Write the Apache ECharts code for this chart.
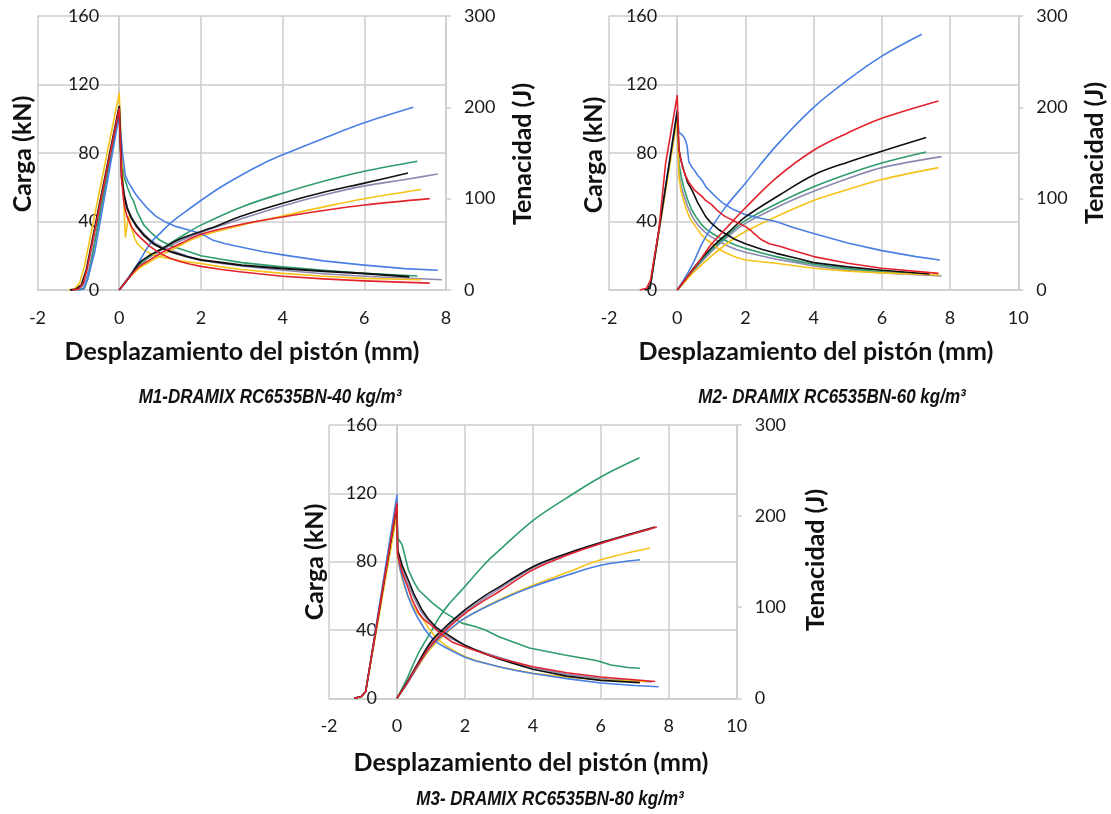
<!DOCTYPE html>
<html>
<head>
<meta charset="utf-8">
<script src="https://cdn.jsdelivr.net/npm/echarts@6/dist/echarts.min.js"></script>
<style>
html,body{margin:0;padding:0;background:#fff;}
#c{width:1111px;height:814px;}
</style>
</head>
<body>
<div id="c"></div>
<script>
// ---------- Labels ----------
const yLeftTitle = 'Carga (kN)';
const yRightTitle = 'Tenacidad (J)';
const xTitle = 'Desplazamiento del pistón (mm)';
const panelTitles = ['M1-DRAMIX RC6535BN-40 kg/m³', 'M2- DRAMIX RC6535BN-60 kg/m³', 'M3- DRAMIX RC6535BN-80 kg/m³'];
const xMins = [-2, -2, -2];
const xMaxes = [8, 10, 10];
const seriesNames = ['Morado', 'Verde', 'Amarillo', 'Azul', 'Negro', 'Rojo'];

// ---------- M1 : carga (kN) ----------
const m1CargaMorado = [[-1.1,0],[-0.95,0.5],[-0.83,5],[-0.72,14],[0,104],[0.07,64],[0.13,55],[0.2,48],[0.3,42],[0.45,37],[0.6,33],[0.75,29.5],[0.9,27],[1.1,24.5],[1.4,22],[1.7,19.5],[2.0,17.5],[2.5,15.5],[3.0,14],[4.0,11.5],[5.0,9.5],[6.0,8],[7.0,7],[7.9,6]];
const m1CargaVerde = [[-1.0,0],[-0.85,1],[-0.75,8],[0,104],[0.06,75],[0.12,66],[0.2,60],[0.28,55],[0.35,52],[0.45,45],[0.6,38],[0.8,33],[1.0,29],[1.25,26],[1.5,24],[1.75,22],[2.0,20],[2.5,18],[3.0,16],[4.0,13.5],[5.0,11.5],[6.0,9.7],[7.3,8.2]];
const m1CargaAmarillo = [[-1.25,0],[-1.1,0.5],[-0.97,4],[-0.85,14],[0,115],[0.08,70],[0.15,31],[0.23,43],[0.3,36],[0.38,30],[0.45,27],[0.55,24.5],[0.7,22],[0.85,20.5],[1.0,19.5],[1.5,17],[2.0,15.5],[2.5,13.5],[3.0,12],[4.0,9.7],[5.0,8],[6.0,6.8],[7.4,6]];
const m1CargaAzul = [[-1.0,0],[-0.88,0.5],[-0.78,6],[-0.6,22],[0,102],[0.08,80],[0.15,67],[0.22,63],[0.3,60],[0.4,56],[0.5,53],[0.7,47.5],[0.9,43],[1.15,39.5],[1.4,37],[1.7,35],[2.0,33],[2.15,31],[2.3,29],[2.6,27],[3.0,25],[3.5,22.5],[4.0,20.5],[5.0,17],[6.0,14.5],[7.0,12.5],[7.8,11.5]];
const m1CargaNegro = [[-1.2,0],[-1.05,0.5],[-0.92,3],[-0.8,12],[0,107],[0.06,66],[0.12,55],[0.19,48],[0.3,42],[0.43,37],[0.6,32],[0.84,27],[1.05,24.3],[1.3,22],[1.65,19.5],[2.0,17.5],[2.5,16],[3.0,14.5],[4.0,12.6],[5.0,11],[6.0,9.7],[7.1,7.8]];
const m1CargaRojo = [[-1.15,0],[-1.0,0.5],[-0.88,4],[-0.78,13],[0,106],[0.06,64],[0.12,50],[0.19,43],[0.3,37],[0.4,33.5],[0.5,31],[0.75,25.5],[1.0,21.4],[1.25,18.5],[1.5,16.5],[1.75,15],[2.0,13.8],[2.5,12],[3.0,10.5],[4.0,8],[5.0,6.5],[6.0,5.3],[7.6,4]];
// ---------- M1 : tenacidad (J) ----------
const m1TenMorado = [[0,0],[0.25,15],[0.5,28],[0.75,36],[1.0,43],[1.5,54],[2.0,63],[3.0,78],[4.0,92],[5.0,104],[6.0,114],[7.0,121],[7.8,127]];
const m1TenVerde = [[0,0],[0.25,14],[0.5,28],[0.75,37],[1.0,44],[1.5,58],[2.0,71],[3.0,91],[4.0,106],[5.0,119],[6.0,130],[7.3,141]];
const m1TenAmarillo = [[0.15,10],[0.25,14],[0.5,24],[0.75,31],[1.0,37],[1.5,49],[2.0,59],[3.0,71],[4.0,81],[5.0,91],[6.0,100],[7.4,110]];
const m1TenAzul = [[0,0],[0.25,15],[0.5,32],[0.76,51],[1.0,62],[1.25,73],[1.6,85],[2.0,98],[2.5,113],[3.0,126],[3.5,138],[4.0,148],[5.0,166],[6.0,183],[7.2,200]];
const m1TenNegro = [[0,0],[0.25,14],[0.5,30],[0.75,38],[1.0,44],[1.5,56],[2.23,67.5],[3.0,81],[4.0,95],[5.0,107],[6.0,117],[7.07,128]];
const m1TenRojo = [[0,0],[0.25,14],[0.5,26],[0.75,33],[1.0,40],[1.5,51],[2.0,61],[3.0,72],[4.0,80],[5.0,87],[6.0,93],[7.6,100]];

// ---------- M2 : carga (kN) ----------
const m2CargaMorado = [[-0.95,0],[-0.8,1],[0,102],[0.05,68],[0.12,60],[0.2,55],[0.3,49],[0.44,43],[0.6,38],[0.8,34],[1.0,31],[1.25,28],[1.5,25.5],[1.75,23.5],[2.0,22],[2.45,20],[2.9,18],[3.5,16],[4.0,14],[5.0,11.5],[6.0,10],[7.75,8.2]];
const m2CargaVerde = [[-0.95,0],[-0.8,1],[0,103],[0.05,74],[0.12,66],[0.19,60],[0.3,53],[0.42,47],[0.54,43],[0.7,38.5],[0.85,35.5],[1.03,33],[1.25,30.5],[1.5,28],[1.75,26],[2.0,24.3],[2.45,21.8],[2.9,19.5],[3.5,17],[4.0,15],[5.0,12.5],[6.0,10.7],[7.3,9.3]];
const m2CargaAmarillo = [[-0.95,0],[-0.8,1],[0,100],[0.05,66],[0.12,57],[0.24,48.6],[0.35,43],[0.45,39.5],[0.54,37],[0.7,32.5],[0.85,29.5],[1.03,27],[1.25,23.5],[1.5,21],[1.75,19],[2.0,17.5],[2.45,16.5],[2.9,15.6],[3.5,14],[4.0,12.7],[5.0,11],[6.0,10],[7.7,8.8]];
const m2CargaAzul = [[-0.95,0],[-0.8,1],[0,105],[0.05,92],[0.12,91],[0.19,89.5],[0.25,87],[0.29,84],[0.34,75],[0.42,72],[0.5,70],[0.6,67],[0.73,64],[0.85,60],[1.0,57],[1.15,54],[1.32,51],[1.6,47.5],[2.0,44],[2.4,42],[2.9,40],[3.4,36.5],[4.0,33],[5.0,27.5],[6.0,23],[7.0,19.5],[7.7,17.5]];
const m2CargaNegro = [[-0.95,0],[-0.8,1],[0,104],[0.05,82],[0.12,75],[0.19,70],[0.3,63],[0.44,58],[0.6,51],[0.83,43],[1.0,39],[1.2,35.5],[1.4,33],[1.7,29.5],[2.0,27],[2.45,24],[2.9,21.4],[3.5,18.5],[4.0,16],[5.0,13.5],[6.0,11.5],[7.4,9.3]];
const m2CargaRojo = [[-1.1,0],[-0.9,1],[-0.78,6],[-0.54,35],[-0.34,74],[0,113.5],[0.05,82],[0.15,72],[0.25,66.5],[0.34,63],[0.5,58.5],[0.73,54.5],[0.85,52],[1.0,50],[1.2,46],[1.4,43],[1.7,40],[2.0,37],[2.15,35],[2.25,33],[2.4,30.5],[2.5,29],[2.7,27],[3.0,25.5],[3.5,22.5],[4.0,19.5],[5.0,15.6],[6.0,12.7],[7.66,9.7]];
// ---------- M2 : tenacidad (J) ----------
const m2TenMorado = [[0,0],[0.25,11],[0.5,22],[1.0,42],[1.5,59],[2.0,73],[3.0,92],[4.0,108],[5.0,122],[6.0,134],[7.75,146]];
const m2TenVerde = [[0,0],[0.25,11],[0.5,23],[1.0,44],[1.5,61],[2.0,76],[3.0,96],[4.0,113],[5.0,127],[6.0,139],[7.3,151]];
const m2TenAmarillo = [[0,0],[0.25,10],[0.5,20],[1.0,37],[1.5,52],[2.0,64],[3.0,82],[4.0,98],[5.0,110],[6.0,121],[7.66,134]];
const m2TenAzul = [[0,0],[0.3,18],[0.5,32],[0.73,51],[1.0,68],[1.42,91],[2.0,117],[2.88,157],[4.0,200],[5.0,230],[6.0,256],[7.17,280]];
const m2TenNegro = [[0,0],[0.25,12],[0.5,25],[1.0,46],[1.5,63],[2.0,80],[3.0,104],[4.0,126],[5.0,140],[6.0,152],[7.3,167]];
const m2TenRojo = [[0,0],[0.25,12],[0.5,24],[0.73,36],[1.0,50],[1.42,67],[2.0,90],[2.88,122],[4.0,153],[5.0,172],[6.0,188],[7.66,207]];

// ---------- M3 : carga (kN) ----------
const m3CargaMorado = [[-1.25,0],[-1.05,1],[-0.92,4],[0,116],[0.02,85],[0.15,76],[0.3,68],[0.5,59],[0.7,51],[0.9,46],[1.1,42],[1.35,38],[1.6,35],[2.0,31],[2.3,28.5],[2.6,26.5],[3.0,24],[3.5,21],[4.0,18],[5.0,14],[6.0,11.5],[7.5,9.5]];
const m3CargaVerde = [[-1.25,0],[-1.05,1],[-0.92,4],[0,112],[0.02,94],[0.15,90],[0.34,75],[0.5,68],[0.64,63.4],[1.03,56],[1.42,50],[1.91,44],[2.3,42],[2.6,40],[3.0,36],[3.9,29.5],[4.9,25.5],[5.9,22],[6.3,19.5],[6.8,18],[7.15,17.6]];
const m3CargaAmarillo = [[-1.25,0],[-1.05,1],[-0.92,4],[0,108],[0.02,82],[0.15,70],[0.3,61],[0.44,55],[0.6,50],[0.78,46],[0.95,40.5],[1.13,36],[1.3,33],[1.5,30],[1.75,27],[2.0,24.5],[2.3,22.3],[2.6,20.5],[3.0,18.5],[3.5,16.5],[4.0,14.6],[5.0,12.5],[6.0,10.7],[7.35,9.8]];
const m3CargaAzul = [[-1.25,0],[-1.05,1],[-0.92,4],[0,119],[0.02,84],[0.1,75],[0.2,68],[0.32,60],[0.44,54],[0.6,47.5],[0.83,40],[1.0,36],[1.23,32],[1.4,30],[1.6,28],[2.0,24],[2.3,22],[2.6,20.5],[3.0,18.5],[3.5,16.3],[4.0,14.5],[5.0,11.5],[6.0,9],[7.0,7.5],[7.7,6.8]];
const m3CargaNegro = [[-1.25,0],[-1.05,1],[-0.92,4],[0,113],[0.02,87],[0.15,78],[0.34,69],[0.5,61],[0.73,52],[0.9,47],[1.13,42],[1.3,39.5],[1.52,37],[1.75,34],[2.0,31],[2.3,28.5],[2.6,26],[3.0,23],[3.5,20],[4.0,17],[5.0,13],[6.0,10.5],[7.15,9.2]];
const m3CargaRojo = [[-1.25,0],[-1.05,1],[-0.92,4],[0,114],[0.02,84],[0.15,74],[0.3,66],[0.45,57.5],[0.64,50],[0.8,46],[1.0,43],[1.3,37.5],[1.62,33],[2.0,30],[2.3,28],[2.6,26],[3.0,23.5],[3.5,21],[4.0,18.5],[5.0,15],[6.0,12.5],[7.6,9.8]];
// ---------- M3 : tenacidad (J) ----------
const m3TenMorado = [[0,0],[0.3,17],[0.64,39],[1.0,60],[1.5,79],[2.0,95],[3.0,120],[4.0,143],[5.0,158],[6.0,170],[7.5,186]];
const m3TenVerde = [[0,0],[0.3,22],[0.64,50],[1.0,73],[1.23,88],[1.5,102],[1.91,119],[2.6,148],[3.0,162],[4.0,195],[5.0,220],[6.0,243],[7.14,264]];
const m3TenAmarillo = [[0,0],[0.3,16],[0.64,36],[1.0,55],[1.5,73],[2.0,88],[3.0,108],[4.0,124],[5.0,138],[6.0,152],[7.45,165]];
const m3TenAzul = [[0,0],[0.3,16],[0.64,37],[1.0,57],[1.5,74],[2.0,88],[3.0,107],[4.0,122.6],[5.0,135],[6.0,146],[7.16,152]];
const m3TenNegro = [[0,0],[0.3,18],[0.64,40],[1.0,62],[1.33,75],[2.0,97],[2.6,113],[3.0,122],[4.0,144.5],[5.0,159],[6.0,171],[7.6,188]];
const m3TenRojo = [[0,0],[0.3,17],[0.64,38],[1.0,58],[1.5,77],[2.0,93],[2.6,108],[3.0,117],[4.0,141],[5.0,157],[6.0,170],[7.65,188]];

const cargaSets = [
  [m1CargaMorado, m1CargaVerde, m1CargaAmarillo, m1CargaAzul, m1CargaNegro, m1CargaRojo],
  [m2CargaMorado, m2CargaVerde, m2CargaAmarillo, m2CargaAzul, m2CargaNegro, m2CargaRojo],
  [m3CargaMorado, m3CargaVerde, m3CargaAmarillo, m3CargaAzul, m3CargaNegro, m3CargaRojo]
];
const tenSets = [
  [m1TenMorado, m1TenVerde, m1TenAmarillo, m1TenAzul, m1TenNegro, m1TenRojo],
  [m2TenMorado, m2TenVerde, m2TenAmarillo, m2TenAzul, m2TenNegro, m2TenRojo],
  [m3TenMorado, m3TenVerde, m3TenAmarillo, m3TenAzul, m3TenNegro, m3TenRojo]
];

// ---------- Styling / layout ----------
const colors = ['#8c89b3', '#2f9c6c', '#f7c31a', '#4a7fe3', '#111111', '#e2232e'];
const grids = [
  {left: 37.5, top: 16, width: 408.5, height: 274},
  {left: 609, top: 16, width: 409.3, height: 274},
  {left: 329, top: 425, width: 407.7, height: 273.3}
];
const titlePos = [
  {carga:[23,154], ten:[523,154], xt:[242,352], sub:[270,397]},
  {carga:[594,155], ten:[1095,153], xt:[816,352], sub:[832,397]},
  {carga:[315,562], ten:[816,560], xt:[531,763], sub:[550,799]}
];
const gridColor = '#cdcdcd';
const tickFont = {fontFamily: 'Lato', fontSize: 18, color: '#1a1a1a'};

const option = {
  backgroundColor: '#ffffff',
  animation: false,
  grid: grids.map(g => Object.assign({containLabel: false}, g)),
  xAxis: [],
  yAxis: [],
  series: [],
  graphic: []
};

for (let p = 0; p < 3; p++) {
  // the load axis crosses the x axis at x = 0 (Excel style)
  const zeroOffset = grids[p].width * (0 - xMins[p]) / (xMaxes[p] - xMins[p]);
  option.xAxis.push({
    type: 'value', gridIndex: p, min: xMins[p], max: xMaxes[p], interval: 2,
    axisLine: {show: true, onZero: false, lineStyle: {color: gridColor, width: 1.5}},
    axisTick: {show: false},
    axisLabel: Object.assign({margin: 19}, tickFont),
    splitLine: {show: true, lineStyle: {color: gridColor, width: 1.5}}
  });
  option.yAxis.push({
    type: 'value', gridIndex: p, position: 'left', offset: -zeroOffset, min: 0, max: 160, interval: 40,
    axisLine: {show: true, onZero: false, lineStyle: {color: gridColor, width: 1.5}},
    axisTick: {show: false},
    axisLabel: Object.assign({margin: 20}, tickFont),
    splitLine: {show: true, lineStyle: {color: gridColor, width: 1.5}}
  });
  option.yAxis.push({
    type: 'value', gridIndex: p, position: 'right', min: 0, max: 300, interval: 100,
    axisLine: {show: true, onZero: false, lineStyle: {color: gridColor, width: 1.5}},
    axisTick: {show: true, inside: false, length: 5, lineStyle: {color: gridColor, width: 1.5}},
    axisLabel: Object.assign({margin: 18}, tickFont),
    splitLine: {show: false}
  });
  for (let s = 0; s < 6; s++) {
    option.series.push({
      name: seriesNames[s] + ' carga M' + (p + 1), type: 'line', xAxisIndex: p, yAxisIndex: 2 * p,
      data: cargaSets[p][s], showSymbol: false, symbol: 'none', smooth: false,
      lineStyle: {color: colors[s], width: (s === 4 && p === 0) ? 2 : 1.6, join: 'round'}, z: 2 + s
    });
    option.series.push({
      name: seriesNames[s] + ' tenacidad M' + (p + 1), type: 'line', xAxisIndex: p, yAxisIndex: 2 * p + 1,
      data: tenSets[p][s], showSymbol: false, symbol: 'none', smooth: 0.35,
      lineStyle: {color: colors[s], width: 1.6, join: 'round'}, z: 2 + s
    });
  }
  const tp = titlePos[p];
  const bold = 'bold 25px Lato';
  option.graphic.push(
    {type: 'text', x: tp.carga[0], y: tp.carga[1], rotation: Math.PI / 2,
     style: {text: yLeftTitle, font: bold, fill: '#111', align: 'center', verticalAlign: 'middle'}},
    {type: 'text', x: tp.ten[0], y: tp.ten[1], rotation: Math.PI / 2,
     style: {text: yRightTitle, font: bold, fill: '#111', align: 'center', verticalAlign: 'middle'}},
    {type: 'text', x: tp.xt[0], y: tp.xt[1],
     style: {text: xTitle, font: bold, fill: '#111', align: 'center', verticalAlign: 'middle'}},
    {type: 'text', x: tp.sub[0], y: tp.sub[1], scaleX: 0.85,
     style: {text: panelTitles[p], font: 'italic bold 20px "Liberation Sans", Arial', fill: '#111', align: 'center', verticalAlign: 'middle'}}
  );
}

const chart = echarts.init(document.getElementById('c'), null, {renderer: 'canvas'});
chart.setOption(option);
</script>
</body>
</html>
